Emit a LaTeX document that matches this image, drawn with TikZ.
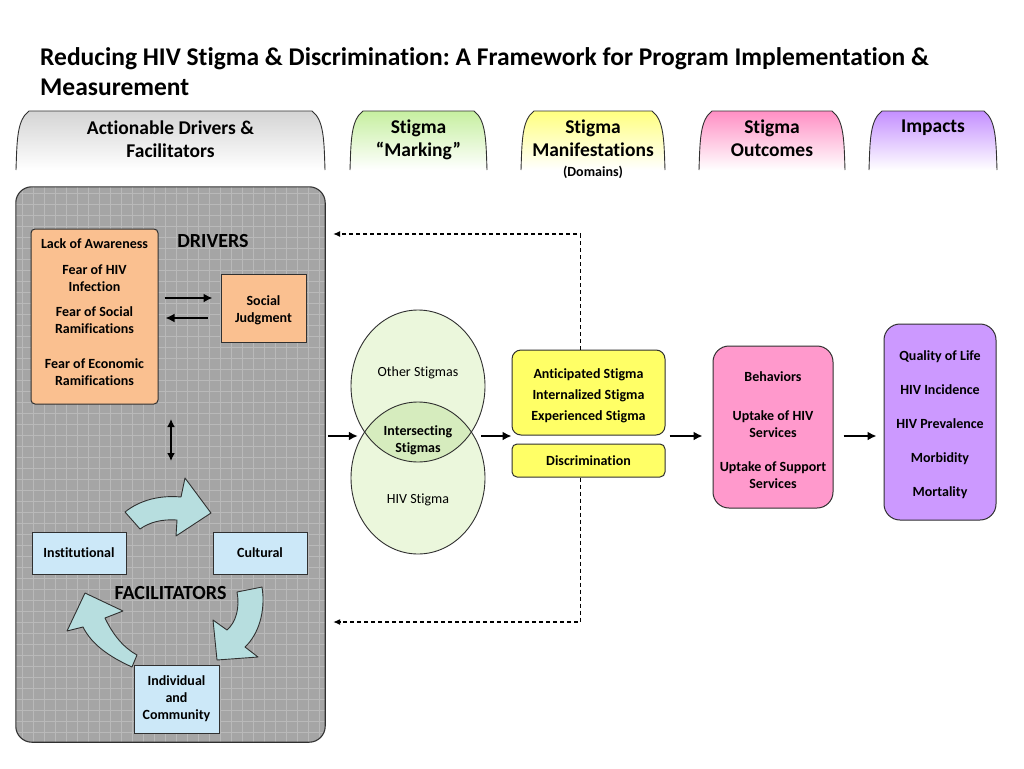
\documentclass[tikz,border=0pt]{standalone}
\usepackage{fontspec}
\setmainfont{Carlito}[Ligatures=NoCommon]
\frenchspacing
\usetikzlibrary{arrows.meta,calc,positioning,shapes.geometric}

\definecolor{drvorange}{HTML}{FAC090}
\definecolor{facblue}{HTML}{CCE8F8}
\definecolor{facteal}{HTML}{B7DEDF}
\definecolor{vennlight}{HTML}{EBF7DC}
\definecolor{venndark}{HTML}{D6ECBE}
\definecolor{manyellow}{HTML}{FFFF66}
\definecolor{outpink}{HTML}{FF99CC}
\definecolor{imppurple}{HTML}{CC99FF}
\definecolor{panelgrey}{HTML}{A5A5A5}
\definecolor{gridgrey}{HTML}{B9B9B9}
\definecolor{edgegrey}{HTML}{303030}
\definecolor{tabgrey}{HTML}{D4D4D4}
\definecolor{tabgreen}{HTML}{C6EFA0}
\definecolor{tabyellow}{HTML}{FFFF80}
\definecolor{tabpink}{HTML}{FF8FC4}
\definecolor{tabpurple}{HTML}{C48FFF}

\newcommand\ttlfont{\fontsize{25.5}{30}\selectfont\bfseries}
\newcommand\hdrfont{\fontsize{19.5}{23}\selectfont\bfseries}
\newcommand\boxfont{\fontsize{14}{17}\selectfont\bfseries}
\newcommand\lblfont{\fontsize{20}{22}\selectfont\bfseries}
\newcommand\vennfont{\fontsize{14}{17}\selectfont}
\newcommand\topgap{\rule{0pt}{16pt}}

\tikzset{
  >={Latex[length=9pt,width=9pt]},
  arr/.style={->, line width=2.2pt},
  fb/.style={-{Latex[length=7pt,width=6pt]}, line width=1.1pt, dash pattern=on 4pt off 3pt},
  tabedge/.style={draw=edgegrey, line width=0.9pt},
  hdr/.style={align=center, font=\hdrfont, inner sep=0pt},
  txtbox/.style={draw=edgegrey, line width=1pt, align=center, font=\boxfont, inner sep=2pt},
  drvbox/.style={txtbox, fill=drvorange},
  facbox/.style={txtbox, fill=facblue},
  manbox/.style={txtbox, fill=manyellow, rounded corners=9pt},
  outbox/.style={txtbox, fill=outpink, rounded corners=16pt},
  impbox/.style={txtbox, fill=imppurple, rounded corners=16pt},
  fcarrow/.style={fill=facteal, draw=edgegrey, line width=0.9pt, line join=round},
  venn/.style={ellipse, fill=vennlight, minimum width=134pt, minimum height=152pt, inner sep=0pt},
  vennline/.style={draw=edgegrey, line width=0.9pt},
}

\begin{document}
\begin{tikzpicture}[x=1pt,y=-1pt]
\fill[white] (0,0) rectangle (1024,768);
\useasboundingbox (0,0) rectangle (1024,768);

% Title
\node[anchor=north west, inner sep=0pt, align=left, font=\ttlfont] (title) at (40,47)
  {Reducing HIV Stigma \& Discrimination: A Framework for Program Implementation \&\\Measurement};

% Header tabs
\foreach \xa/\xb/\tc in {16/325/tabgrey, 350/487/tabgreen, 521/665/tabyellow, 699/845/tabpink, 869/997/tabpurple}
  \draw[tabedge, top color=\tc, bottom color=white]
    (\xa,170) .. controls (\xa+1,140) and (\xa+1,120) .. (\xa+13,111)
    -- (\xb-13,111) .. controls (\xb-1,120) and (\xb-1,140) .. (\xb,170);
\node[hdr] (hdrA) at (170.5,139) {Actionable Drivers \&\\Facilitators};
\node[hdr] (hdrB) at (418.5,139.5) {Stigma\\``Marking''};
\node[hdr] (hdrC) at (593,138.5) {Stigma\\Manifestations};
\node[font=\fontsize{14}{16}\selectfont\bfseries, inner sep=0pt] (dom) at (593,172) {(Domains)};
\node[hdr] (hdrD) at (772,138.5) {Stigma\\Outcomes};
\node[hdr] (hdrE) at (933,128) {Impacts};

% Drivers & facilitators panel
\node[fill=panelgrey, rounded corners=16pt, minimum width=309pt, minimum height=555pt] (panel) at (170.5,464.5) {};
\begin{scope}
  \clip[rounded corners=16pt] (panel.north west) rectangle (panel.south east);
  \foreach \gx in {22,33,...,325} \draw[gridgrey, line width=0.7pt] (\gx,187) -- (\gx,742);
  \foreach \gy in {193,204,...,742} \draw[gridgrey, line width=0.7pt] (16,\gy) -- (325,\gy);
\end{scope}
\draw[edgegrey, line width=1.1pt, rounded corners=16pt] (panel.north west) rectangle (panel.south east);

\node[drvbox, rounded corners=4pt, minimum width=127pt, minimum height=175pt] (drv) at (94.5,316.5)
  {Lack of Awareness\\[9pt]Fear of HIV\\Infection\\[8pt]Fear of Social\\Ramifications\\[18pt]Fear of Economic\\Ramifications\\[-8pt]};
\node[font=\lblfont, inner sep=0pt] (drvlbl) at (213,241) {DRIVERS};
\node[drvbox, minimum width=85pt, minimum height=68pt] (sj) at (263.5,308) {\rule{0pt}{14pt}Social\\Judgment};
\draw[arr] ($(drv.east|-0,298)+(6,0)$) -- ($(sj.west|-0,298)+(-8,0)$);
\draw[arr] ($(sj.west|-0,318)+(-13,0)$) -- ($(drv.east|-0,318)+(7,0)$);

\coordinate (dtop) at (171,419);
\coordinate (dbot) at (171,461);
\draw[<->, >={Latex[length=8pt,width=8pt]}, line width=1.8pt] (dtop) -- (dbot);

\node[facbox, minimum width=94pt, minimum height=42pt] (inst) at (79,553) {Institutional};
\node[facbox, minimum width=94pt, minimum height=42pt] (cult) at (260,553) {Cultural};
\node[facbox, minimum width=85pt, minimum height=68pt] (indiv) at (176.5,699) {Individual\\and\\Community};
\node[font=\lblfont, inner sep=0pt] (faclbl) at (170.5,593) {FACILITATORS};

% cycle arrows
\path[fcarrow] (125,512) .. controls (140,500) and (160,495) .. (181,497) -- (185,478) -- (211,513)
  -- (176,536) -- (177,520) .. controls (162,519) and (150,522) .. (140,529) -- cycle;
\path[fcarrow] (237,592) .. controls (240,608) and (236,622) .. (227,630) -- (213,620) -- (217,660)
  -- (258,657) -- (245,647) .. controls (258,635) and (266,612) .. (262,587) -- cycle;
\path[fcarrow] (132,667) .. controls (110,657) and (92,645) .. (83,627) -- (67,631) -- (85,593)
  -- (123,611) -- (105,618) .. controls (113,635) and (124,648) .. (137,655) -- cycle;

% Stigma marking
\node[venn] (other) at (418,386) {};
\node[venn] (hiv) at (418,478) {};
\begin{scope}
  \clip (other.center) ellipse [x radius=67, y radius=76];
  \fill[venndark] (hiv.center) ellipse [x radius=67, y radius=76];
\end{scope}
\draw[vennline] (other.center) ellipse [x radius=67, y radius=76];
\draw[vennline] (hiv.center) ellipse [x radius=67, y radius=76];
\coordinate (vj) at (418,436);
\node[font=\vennfont] (othertxt) at (418,373) {Other Stigmas};
\node[font=\boxfont, align=center] (xsec) at (418,440) {Intersecting\\Stigmas};
\node[font=\vennfont] (hivtxt) at (418,500) {HIV Stigma};

% Manifestations, outcomes, impacts
\node[manbox, minimum width=153pt, minimum height=85pt] (manif) at (588.5,392.5)
  {\topgap Anticipated Stigma\\[4pt]Internalized Stigma\\[4pt]Experienced Stigma};
\node[manbox, rounded corners=5pt, minimum width=153pt, minimum height=33pt] (discr) at (588.5,460.5) {Discrimination};
\node[outbox, minimum width=120pt, minimum height=162pt] (outc) at (773,427)
  {\topgap Behaviors\\[22pt]Uptake of HIV\\Services\\[17pt]Uptake of Support\\Services};
\node[impbox, minimum width=112pt, minimum height=196pt] (imp) at (940,422)
  {\topgap Quality of Life\\[17pt]HIV Incidence\\[17pt]HIV Prevalence\\[17pt]Morbidity\\[17pt]Mortality};

% Flow arrows
\draw[arr] ($(panel.east|-vj)+(3,0)$) -- ($(other.west|-vj)+(7,0)$);
\draw[arr] ($(other.east|-vj)+(-4,0)$) -- (manif.west|-vj);
\draw[arr] ($(manif.east|-vj)+(4,0)$) -- ($(outc.west|-vj)+(-10,0)$);
\draw[arr] ($(outc.east|-vj)+(10,0)$) -- ($(imp.west|-vj)+(-7,0)$);

% Feedback
\draw[fb] ($(manif.north)+(-8,0)$) |- ($(panel.east|-0,234)+(8,0)$);
\draw[fb] ($(discr.south)+(-8,0)$) |- ($(panel.east|-0,622)+(8,0)$);
\end{tikzpicture}
\end{document}
